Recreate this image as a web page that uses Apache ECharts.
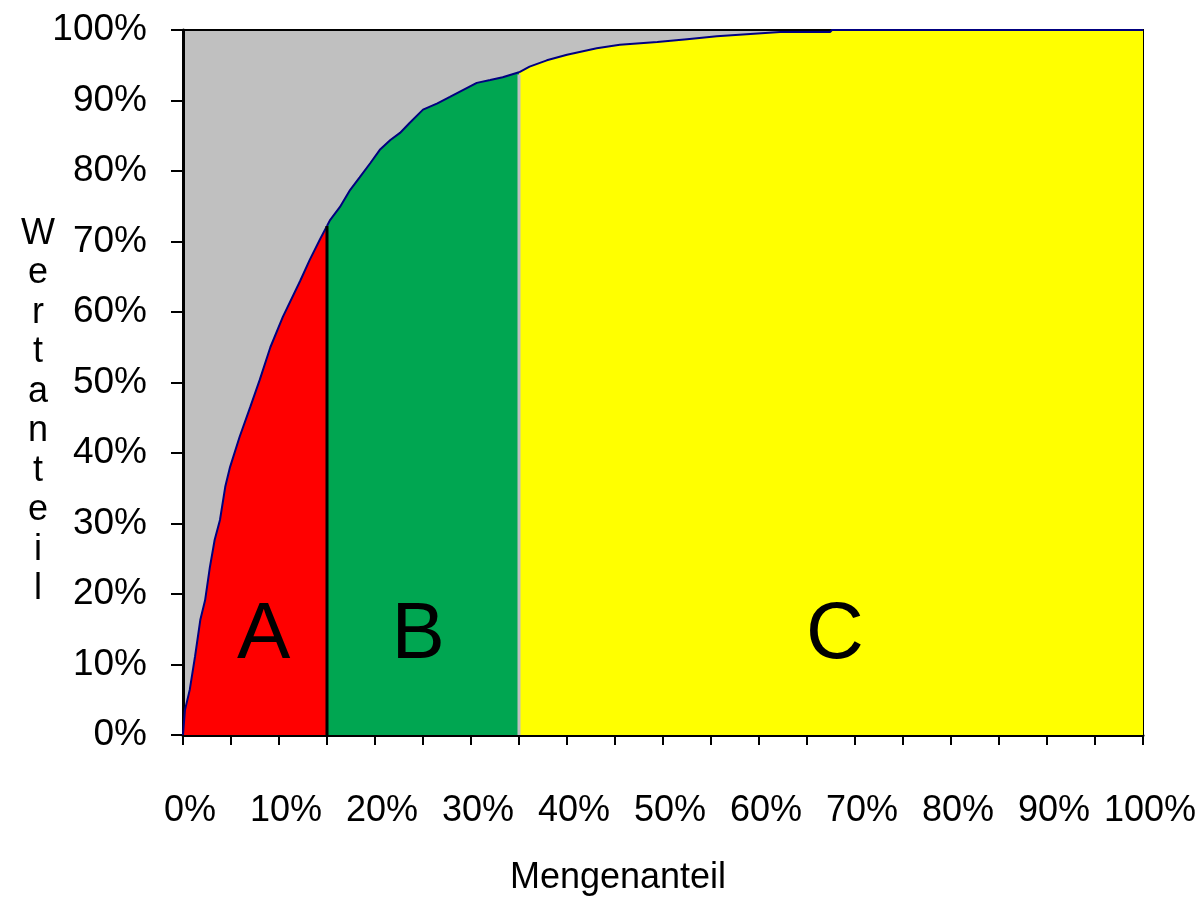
<!DOCTYPE html>
<html>
<head>
<meta charset="utf-8">
<script src="https://cdn.jsdelivr.net/npm/echarts@6/dist/echarts.min.js"></script>
<style>
html,body{margin:0;padding:0;background:#fff;}
#chart{width:1202px;height:914px;}
</style>
</head>
<body>
<div id="chart"></div>
<script>
// Cumulative curve (Mengenanteil % -> Wertanteil %)
var curveX = [0, 0.2, 0.7, 1.25, 1.8, 2.3, 2.8, 3.3, 3.85, 4.4, 4.9, 5.9, 7.0, 8.0, 9.1, 10.4, 12.2, 13.2, 14.3, 15.0,
  15.3, 16.35, 17.4, 18.4, 19.5, 20.5, 21.6, 22.6, 23.6, 25.0, 26.5, 27.8, 29.2, 30.6, 32.0, 33.3, 35.0,
  36.1, 37.9, 40.0, 43.1, 45.5, 49.4, 52.5, 55.6, 62.2, 67.4, 67.6, 100];
var curveY = [0, 3.5, 6.4, 11.1, 16.3, 19.1, 23.8, 27.7, 30.5, 35.2, 38.0, 42.3, 46.5, 50.4, 55.0, 59.3, 64.4, 67.4, 70.4, 72.2,
  73.0, 74.9, 77.3, 79.1, 81.1, 83.0, 84.4, 85.4, 86.8, 88.7, 89.6, 90.5, 91.5, 92.5, 92.9, 93.3, 94.0,
  94.8, 95.7, 96.5, 97.4, 97.9, 98.3, 98.7, 99.1, 99.7, 99.7, 100, 100];
var classBounds = [0, 15, 35, 100];
var classNames = ['A', 'B', 'C'];
var classColors = ['#ff0000', '#00a651', '#ffff00'];
var classLabelX = [8.4, 24.5, 67.9];
var classLabelY = [14.0, 14.0, 14.0];
var xAxisName = 'Mengenanteil';
var yAxisName = 'Wertanteil';

var FONT = "'Liberation Sans', Arial, sans-serif";

function segment(lo, hi) {
  var out = [];
  for (var i = 0; i < curveX.length; i++) {
    if (curveX[i] >= lo && curveX[i] <= hi) out.push([curveX[i], curveY[i]]);
  }
  return out;
}
function valueAt(x) {
  for (var i = 0; i < curveX.length; i++) if (curveX[i] === x) return curveY[i];
  return 0;
}

var series = [];
for (var k = 0; k < classNames.length; k++) {
  series.push({
    type: 'line',
    data: segment(classBounds[k], classBounds[k + 1]),
    symbol: 'none',
    smooth: false,
    lineStyle: { color: '#000080', width: 2 },
    areaStyle: { color: classColors[k], opacity: 1 },
    z: 2
  });
}
// boundary lines
series.push({
  type: 'line', data: [[classBounds[1], 0], [classBounds[1], valueAt(classBounds[1])]],
  symbol: 'none', lineStyle: { color: '#000', width: 3 }, z: 3
});
series.push({
  type: 'line', data: [[classBounds[2], 0], [classBounds[2], valueAt(classBounds[2]) - 0.3]],
  symbol: 'none', lineStyle: { color: '#c0c0c0', width: 3 }, z: 3
});
// class letters
series.push({
  type: 'scatter',
  symbolSize: 0,
  itemStyle: { opacity: 1, color: '#000' },
  data: classNames.map(function (n, i) { return { value: [classLabelX[i], classLabelY[i]], name: n }; }),
  label: {
    show: true, position: 'inside', formatter: '{b}',
    fontFamily: FONT, fontSize: 80, color: '#000', opacity: 1
  },
  z: 5
});

var chart = echarts.init(document.getElementById('chart'));
chart.setOption({
  animation: false,
  backgroundColor: '#fff',
  grid: {
    left: 183, right: 59, top: 30, bottom: 179,
    show: true, backgroundColor: '#c0c0c0', borderColor: '#000', borderWidth: 2
  },
  xAxis: {
    type: 'value', min: 0, max: 100, interval: 5,
    axisLine: { show: true, lineStyle: { color: '#000', width: 3 } },
    axisTick: { show: true, length: 10, lineStyle: { color: '#000', width: 2 } },
    axisLabel: {
      formatter: function (v) { return v % 10 === 0 ? v + '%' : ''; },
      fontFamily: FONT, fontSize: 36, color: '#000', margin: 58,
      padding: [0, 0, 0, 14]
    },
    splitLine: { show: false }
  },
  yAxis: {
    type: 'value', min: 0, max: 100, interval: 10,
    axisLine: { show: true, lineStyle: { color: '#000', width: 3 } },
    axisTick: { show: true, length: 12, lineStyle: { color: '#000', width: 2 } },
    axisLabel: { formatter: '{value}%', fontFamily: FONT, fontSize: 37, color: '#000', margin: 36 },
    splitLine: { show: false }
  },
  graphic: [
    {
      type: 'text', x: 618, y: 878,
      style: { text: xAxisName, fontFamily: FONT, fontSize: 36, fill: '#000', textAlign: 'center', textVerticalAlign: 'middle' }
    },
    {
      type: 'text', x: 38, y: 214,
      style: { text: yAxisName.split('').join('\n'), fontFamily: FONT, fontSize: 36, lineHeight: 39.5, fill: '#000', textAlign: 'center', textVerticalAlign: 'top' }
    }
  ],
  series: series
});
</script>
</body>
</html>
